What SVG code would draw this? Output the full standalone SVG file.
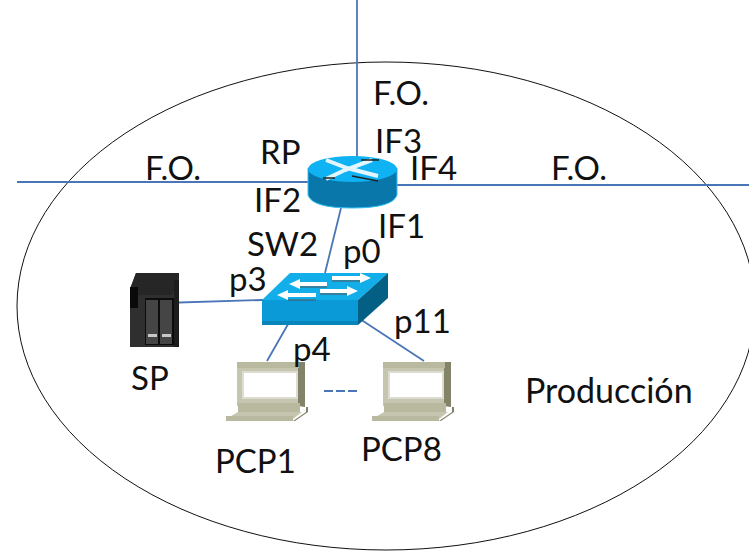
<svg xmlns="http://www.w3.org/2000/svg" width="749" height="551" viewBox="0 0 749 551">
<style>
text{font-family:Lato,"Liberation Sans",sans-serif;font-size:33px;fill:#111}
.l{stroke:#4a76b8;stroke-width:1.8;fill:none}
.body{fill:#b9b99f}.dark{fill:#83836a}.scr{fill:#fff;stroke:#dcdcd0;stroke-width:2}.lite{fill:#c6c6b0}
.arw{fill:#fff;stroke:none}
</style>
<defs>
<g id="laptop">
<rect class="lite" x="11" y="1" width="62" height="44"/>
<path class="dark" d="M72 1H79V46L72 45Z"/>
<rect class="body" x="11" y="1" width="62" height="6"/>
<rect class="scr" x="17" y="11" width="54" height="26"/>
<path class="body" d="M12 42H74V51H12Z"/>
<path class="lite" d="M12 51H76L67 58H0Z"/>
<path class="body" d="M0 55H67V60H0Z"/>
<path class="dark" d="M67 60L80 51V46H82V51L69 60Z"/>
</g>
</defs>
<ellipse id="prod" cx="386" cy="306" rx="369" ry="244" fill="none" stroke="#111" stroke-width="1"/>
<g id="connectors">
<path class="l" d="M357 0V160M17 182H310M396 185H749M341 208L325 273M163 303L263 300M291 319L267 361M360 319L424 361"/>
<path class="l" d="M324 391H357" stroke-dasharray="9 3" stroke-width="2"/>
</g>
<g id="RP">
<path d="M308 168V195Q312 208 352 208Q393 208 397 195V168Z" fill="#0a77aa" stroke="#2cc0f5" stroke-width="1"/>
<ellipse cx="352.500" cy="169" rx="44.500" ry="13" fill="#0fb2f2"/>
<path d="M326 160L347 168L378 176M372 160L345 170L326 179" stroke="#e4f6fd" stroke-width="4" fill="none"/>
<path d="M361 160H379M323 178H335M352 176L378 181" stroke="#222" stroke-width="1.500" fill="none"/>
</g>
<g id="SW2">
<path d="M262 300L290 273H388L358 300Z" fill="#12aeea"/>
<path d="M358 300L388 273V298L358 325Z" fill="#045f85"/>
<path d="M262 300H358V325H262Z" fill="#0b9ad8"/>
<path d="M262 321H358V325H262Z" fill="#0a85bc"/>
<path class="arw" d="M289 284L300 279V282H327V286H300V289ZM371 278L360 273V276H332V280H360V283ZM277 295L288 290V293H316V297H288V300ZM358 291L347 286V289H320V293H347V296Z"/>
<path d="M300 287H327M332 281H360M288 300H316M320 294H347" stroke="#555" stroke-width="1" fill="none"/>
</g>
<g id="SP">
<path d="M136 273H179V347H130V289Z" fill="#2f2f2f"/>
<path d="M130 289L136 273H179V276L172 295H130Z" fill="#262626"/>
<rect x="145" y="298" width="29" height="47" fill="#0c0c0c"/>
<rect x="146" y="300" width="12" height="44" fill="#454545"/>
<rect x="160" y="300" width="12" height="44" fill="#454545"/>
<rect x="148" y="334" width="9" height="3" fill="#c8c8c8"/>
<rect x="162" y="334" width="9" height="3" fill="#c8c8c8"/>
<rect x="130" y="287" width="8" height="21" fill="#0a0a0a"/>
<path d="M174 280H179V347H174Z" fill="#1d1d1d"/>
</g>
<g id="PCP1"><use href="#laptop" x="226" y="361"/></g>
<g id="PCP8"><use href="#laptop" x="372" y="361"/></g>
<g id="labels">
<text x="373" y="105">F.O.</text>
<text x="145" y="180">F.O.</text>
<text x="551" y="180">F.O.</text>
<text x="260" y="164">RP</text>
<text x="375" y="153">IF3</text>
<text x="410" y="180">IF4</text>
<text x="254" y="212">IF2</text>
<text x="378" y="238">IF1</text>
<text x="247" y="256">SW2</text>
<text x="343" y="263">p0</text>
<text x="229" y="291">p3</text>
<text x="293" y="361">p4</text>
<text x="394" y="333">p11</text>
<text x="131" y="390">SP</text>
<text x="215" y="473">PCP1</text>
<text x="361" y="461">PCP8</text>
<text x="525" y="403" style="font-size:34px">Producción</text>
</g>
</svg>
